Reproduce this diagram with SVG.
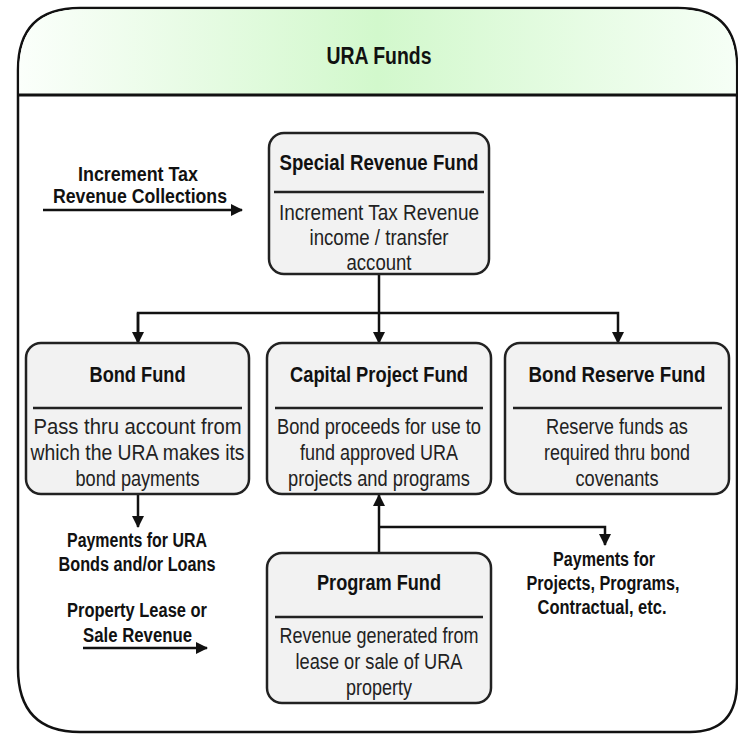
<svg xmlns="http://www.w3.org/2000/svg" width="738" height="734" viewBox="0 0 738 734">
<style>
.frame{fill:#ffffff;stroke:#111;stroke-width:2.5}
.hdr{stroke:#111;stroke-width:3}
.box{fill:#f2f2f2;stroke:#222;stroke-width:2.5}
.div{stroke:#222;stroke-width:2.5}
.c{fill:none;stroke:#111;stroke-width:2.5}
text{font-family:"Liberation Sans",Arial,sans-serif;text-anchor:middle;fill:#111}
.tt{font-size:22px;font-weight:bold}
.bd{font-size:22px;fill:#222}
.lb{font-size:21px;font-weight:bold}
.ls{font-size:19.5px;font-weight:bold}
.ttl{font-size:23px;font-weight:bold}
</style>
<defs>
<linearGradient id="hg" x1="0" y1="0" x2="1" y2="0">
<stop offset="0" stop-color="#fbfffb"/>
<stop offset="0.5" stop-color="#d2f8cc"/>
<stop offset="1" stop-color="#f6fff6"/>
</linearGradient>
<marker id="ah" viewBox="0 0 12 12" refX="11" refY="6" markerWidth="12" markerHeight="12" markerUnits="userSpaceOnUse" orient="auto">
<path d="M0,0 L12,6 L0,12 Z" fill="#111"/>
</marker>
</defs>

<g id="frame">
<path class="frame" d="M18,70 Q18,8 80,8 L678,8 Q737,8 737,66 L737,682 Q737,732 690,732 L80,732 Q18,732 18,668 Z"/>
<path d="M19.3,95 L19.3,70 Q19.3,9.3 80,9.3 L678,9.3 Q735.7,9.3 735.7,66 L735.7,95 Z" fill="url(#hg)"/>
<line class="hdr" x1="18" y1="95" x2="738" y2="95"/>
<text class="ttl" x="379" y="64" textLength="105" lengthAdjust="spacingAndGlyphs">URA Funds</text>
</g>

<g id="connectors">
<line class="c" x1="43" y1="210" x2="242" y2="210" marker-end="url(#ah)"/>
<line class="c" x1="379" y1="274" x2="379" y2="343" marker-end="url(#ah)"/>
<polyline class="c" points="138,343 138,313 618,313 618,343" marker-end="url(#ah)"/>
<line class="c" x1="138" y1="313" x2="138" y2="343" marker-end="url(#ah)"/>
<line class="c" x1="138" y1="494" x2="138" y2="527" marker-end="url(#ah)"/>
<line class="c" x1="83" y1="648" x2="207" y2="648" marker-end="url(#ah)"/>
<line class="c" x1="379" y1="553" x2="379" y2="495" marker-end="url(#ah)"/>
<polyline class="c" points="379,527 605,527 605,545" marker-end="url(#ah)"/>
</g>

<g id="label-increment">
<text class="lb" x="138" y="181" textLength="120" lengthAdjust="spacingAndGlyphs">Increment Tax</text>
<text class="lb" x="140" y="203" textLength="174" lengthAdjust="spacingAndGlyphs">Revenue Collections</text>
</g>

<g id="special-revenue-fund">
<rect class="box" x="269" y="133" width="220" height="141" rx="15"/>
<line class="div" x1="274" y1="192" x2="484" y2="192"/>
<text class="tt" x="379" y="170" textLength="199" lengthAdjust="spacingAndGlyphs">Special Revenue Fund</text>
<text class="bd" x="379" y="220" textLength="200" lengthAdjust="spacingAndGlyphs">Increment Tax Revenue</text>
<text class="bd" x="379" y="245" textLength="139" lengthAdjust="spacingAndGlyphs">income / transfer</text>
<text class="bd" x="379" y="270" textLength="65" lengthAdjust="spacingAndGlyphs">account</text>
</g>

<g id="bond-fund">
<rect class="box" x="26" y="343" width="223" height="151" rx="15"/>
<line class="div" x1="33" y1="408" x2="242" y2="408"/>
<text class="tt" x="137.5" y="382" textLength="96" lengthAdjust="spacingAndGlyphs">Bond Fund</text>
<text class="bd" x="137.5" y="434" textLength="208" lengthAdjust="spacingAndGlyphs">Pass thru account from</text>
<text class="bd" x="137.5" y="460" textLength="214" lengthAdjust="spacingAndGlyphs">which the URA makes its</text>
<text class="bd" x="137.5" y="486" textLength="124" lengthAdjust="spacingAndGlyphs">bond payments</text>
</g>

<g id="capital-project-fund">
<rect class="box" x="267" y="343" width="224" height="151" rx="15"/>
<line class="div" x1="275" y1="408" x2="483" y2="408"/>
<text class="tt" x="379" y="382" textLength="178" lengthAdjust="spacingAndGlyphs">Capital Project Fund</text>
<text class="bd" x="379" y="434" textLength="204" lengthAdjust="spacingAndGlyphs">Bond proceeds for use to</text>
<text class="bd" x="379" y="460" textLength="158" lengthAdjust="spacingAndGlyphs">fund approved URA</text>
<text class="bd" x="379" y="486" textLength="182" lengthAdjust="spacingAndGlyphs">projects and programs</text>
</g>

<g id="bond-reserve-fund">
<rect class="box" x="505" y="343" width="224" height="151" rx="15"/>
<line class="div" x1="513" y1="408" x2="722" y2="408"/>
<text class="tt" x="617" y="382" textLength="177" lengthAdjust="spacingAndGlyphs">Bond Reserve Fund</text>
<text class="bd" x="617" y="434" textLength="142" lengthAdjust="spacingAndGlyphs">Reserve funds as</text>
<text class="bd" x="617" y="460" textLength="146" lengthAdjust="spacingAndGlyphs">required thru bond</text>
<text class="bd" x="617" y="486" textLength="83" lengthAdjust="spacingAndGlyphs">covenants</text>
</g>

<g id="label-payments-bonds">
<text class="ls" x="137" y="547" textLength="140" lengthAdjust="spacingAndGlyphs">Payments for URA</text>
<text class="ls" x="137" y="571" textLength="157" lengthAdjust="spacingAndGlyphs">Bonds and/or Loans</text>
</g>

<g id="label-property">
<text class="ls" x="137" y="617" textLength="140" lengthAdjust="spacingAndGlyphs">Property Lease or</text>
<text class="ls" x="137.5" y="642" textLength="109" lengthAdjust="spacingAndGlyphs">Sale Revenue</text>
</g>

<g id="label-payments-projects">
<text class="ls" x="604" y="566" textLength="102" lengthAdjust="spacingAndGlyphs">Payments for</text>
<text class="ls" x="603" y="590" textLength="153" lengthAdjust="spacingAndGlyphs">Projects, Programs,</text>
<text class="ls" x="602" y="614" textLength="129" lengthAdjust="spacingAndGlyphs">Contractual, etc.</text>
</g>

<g id="program-fund">
<rect class="box" x="267" y="553" width="224" height="150" rx="15"/>
<line class="div" x1="275" y1="617" x2="483" y2="617"/>
<text class="tt" x="379" y="590" textLength="124" lengthAdjust="spacingAndGlyphs">Program Fund</text>
<text class="bd" x="379" y="643" textLength="199" lengthAdjust="spacingAndGlyphs">Revenue generated from</text>
<text class="bd" x="379" y="669" textLength="167" lengthAdjust="spacingAndGlyphs">lease or sale of URA</text>
<text class="bd" x="379" y="695" textLength="66" lengthAdjust="spacingAndGlyphs">property</text>
</g>
</svg>
